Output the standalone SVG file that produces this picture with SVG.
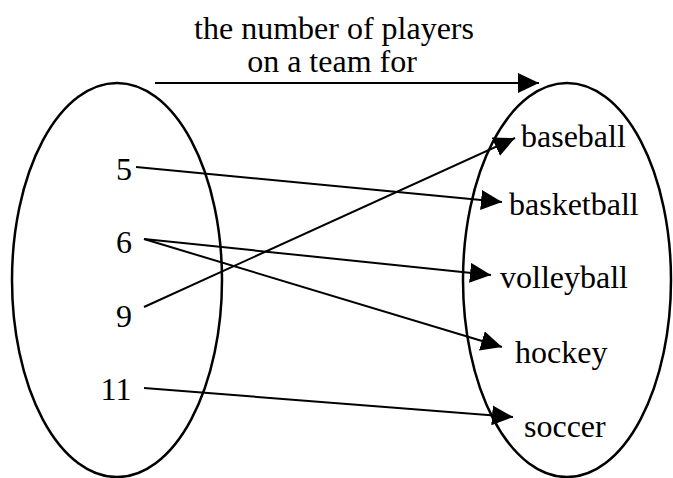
<svg xmlns="http://www.w3.org/2000/svg" width="673" height="478" viewBox="0 0 673 478">
<style>
.t{font-family:"Liberation Serif","Times New Roman",serif;font-size:32px;fill:#000}
.set{fill:none;stroke:#000;stroke-width:2.5}
.c{fill:none;stroke:#000;stroke-width:2;marker-end:url(#ah)}
</style>
<defs>
<marker id="ah" markerUnits="userSpaceOnUse" markerWidth="22" markerHeight="20" refX="21" refY="10" orient="auto" viewBox="0 0 22 20">
<path d="M0,0 L21,10 L0,20 Z" fill="#000"/>
</marker>
</defs>
<rect width="673" height="478" fill="#fff"/>
<g id="title">
<text class="t" x="334" y="39" text-anchor="middle">the number of players</text>
<text class="t" x="332" y="72" text-anchor="middle">on a team for</text>
</g>
<g id="domain">
<ellipse class="set" cx="117" cy="280" rx="105" ry="197"/>
<text class="t" x="124" y="180" text-anchor="middle">5</text>
<text class="t" x="124" y="253" text-anchor="middle">6</text>
<text class="t" x="124" y="327" text-anchor="middle">9</text>
<text class="t" x="116" y="400" text-anchor="middle">11</text>
</g>
<g id="range">
<ellipse class="set" cx="567" cy="280" rx="104" ry="197"/>
<text class="t" x="521" y="147">baseball</text>
<text class="t" x="509" y="215">basketball</text>
<text class="t" x="500" y="288">volleyball</text>
<text class="t" x="515" y="363">hockey</text>
<text class="t" x="524" y="437">soccer</text>
</g>
<g id="connectors">
<line class="c" x1="155" y1="83" x2="539" y2="83"/>
<line class="c" x1="136" y1="167" x2="502" y2="202"/>
<line class="c" x1="144" y1="239" x2="491" y2="275"/>
<line class="c" x1="144" y1="239" x2="502" y2="347"/>
<line class="c" x1="144" y1="307" x2="515" y2="138"/>
<line class="c" x1="144" y1="388" x2="513" y2="417"/>
</g>
</svg>
